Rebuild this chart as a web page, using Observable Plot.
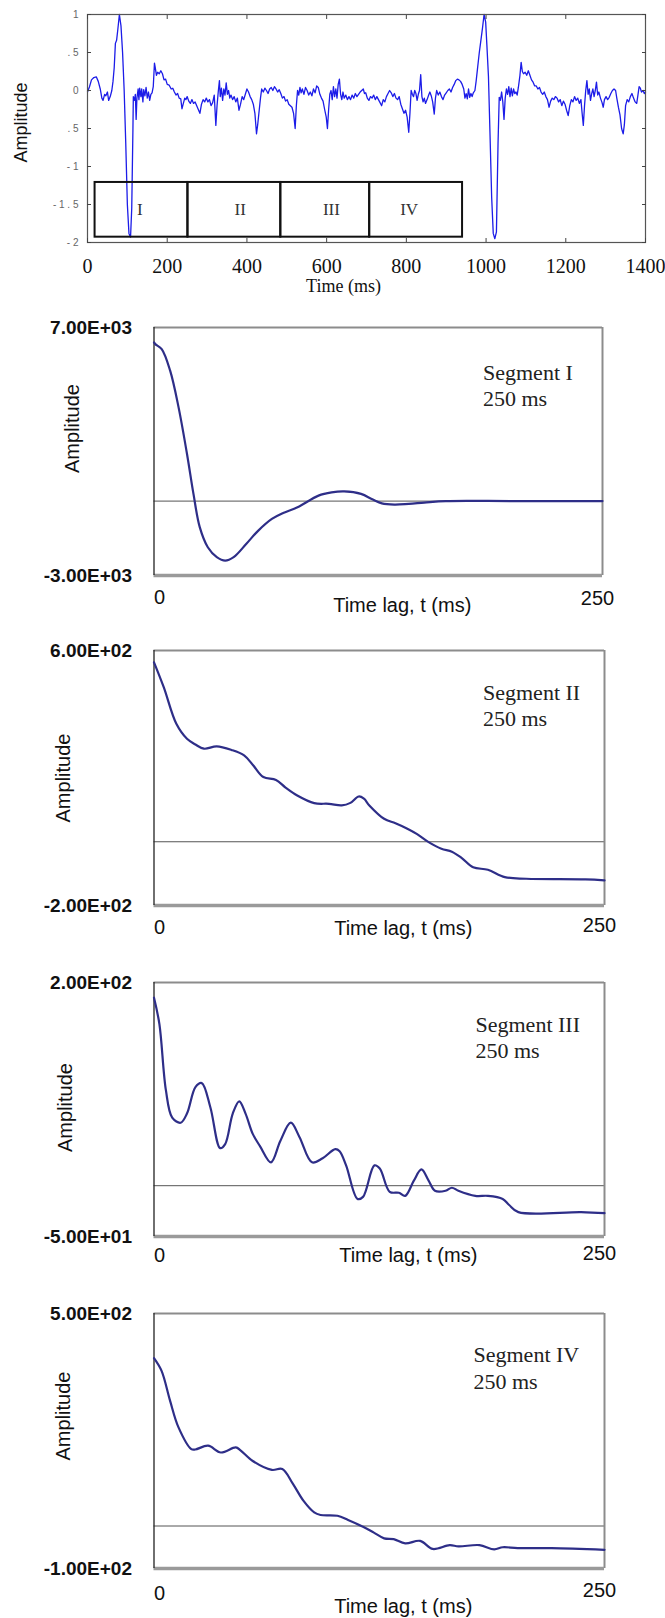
<!DOCTYPE html>
<html>
<head>
<meta charset="utf-8">
<script src="https://cdn.jsdelivr.net/npm/d3@7"></script>
<script src="https://cdn.jsdelivr.net/npm/@observablehq/plot@0.6"></script>
<style>
  html, body { margin: 0; padding: 0; background: #fff; }
  #page { position: relative; width: 665px; height: 1618px; background: #fff; overflow: hidden; }
  .panel { position: absolute; left: 0; }
  svg { overflow: visible; }
</style>
</head>
<body>
<div id="page"></div>
<script>
// ---------- DATA ----------
// ECG trace (time ms, amplitude)
const ecgSamples = [
[0,-0.02],[5,0.05],[10,0.14],[16,0.17],[22,0.18],[27,0.12],[32,0.02],[36,-0.10],[39,-0.13],[43,-0.05],
[46,-0.07],[50,-0.02],[53,-0.13],[57,-0.08],[61,0.00],[64,0.12],[67,0.30],[70,0.62],[73,0.66],[76,0.80],
[80,1.00],[84,0.85],[88,0.50],[92,0.00],[96,-0.70],[100,-1.50],[104,-1.88],[108,-1.93],[111,-1.55],[114,-0.50],
[115,-0.08],[118,-0.13],[120,-0.05],[122,-0.38],[124,-0.10],[127,0.02],[129,-0.12],[131,0.03],[134,-0.08],[136,0.02],
[139,-0.15],[141,0.01],[144,-0.07],[147,0.04],[150,-0.10],[153,-0.02],[156,-0.13],[159,-0.05],[162,-0.03],[165,0.05],
[168,0.36],[170,0.30],[173,0.20],[176,0.24],[180,0.22],[184,0.26],[188,0.22],[192,0.14],[196,0.15],[200,0.08],
[205,0.07],[210,0.02],[214,0.03],[218,-0.02],[222,-0.06],[226,-0.04],[230,-0.10],[234,-0.11],[237,-0.24],[240,-0.18],
[244,-0.10],[247,-0.12],[250,-0.08],[254,-0.14],[258,-0.17],[262,-0.12],[266,-0.17],[270,-0.15],[274,-0.20],[278,-0.25],
[282,-0.30],[286,-0.18],[290,-0.12],[294,-0.15],[298,-0.10],[302,-0.15],[306,-0.12],[310,-0.20],[314,-0.16],[318,-0.06],
[322,-0.46],[325,-0.20],[328,-0.02],[331,0.13],[333,-0.08],[336,0.03],[339,-0.13],[342,0.02],[345,-0.06],[348,0.10],
[351,-0.05],[354,0.00],[357,-0.10],[360,-0.06],[364,-0.12],[368,-0.08],[372,-0.15],[376,-0.10],[380,-0.26],[384,-0.18],
[388,-0.08],[392,-0.12],[396,-0.05],[400,0.02],[404,-0.02],[408,-0.08],[412,-0.12],[416,-0.18],[420,-0.30],[424,-0.57],
[427,-0.45],[430,-0.30],[434,-0.10],[437,0.02],[441,-0.02],[445,0.03],[449,0.00],[453,-0.04],[457,0.02],[461,0.04],
[465,0.00],[469,0.05],[473,0.02],[477,-0.02],[481,0.01],[485,-0.04],[489,-0.10],[493,-0.08],[497,-0.14],[501,-0.12],
[505,-0.18],[509,-0.20],[513,-0.22],[517,-0.30],[521,-0.50],[524,-0.20],[527,0.00],[530,-0.06],[533,0.04],[536,-0.03],
[539,0.02],[543,-0.05],[547,0.04],[551,0.00],[555,-0.06],[559,-0.02],[563,-0.07],[567,0.02],[571,-0.03],[575,0.06],
[579,0.04],[583,-0.05],[587,-0.10],[591,-0.14],[595,-0.25],[599,-0.35],[602,-0.50],[605,-0.25],[608,-0.05],[611,0.00],
[614,-0.12],[617,0.05],[620,-0.08],[623,0.02],[626,-0.10],[629,0.08],[632,0.15],[635,-0.05],[638,-0.12],[641,-0.02],
[644,-0.10],[648,-0.06],[652,-0.12],[656,-0.08],[660,-0.12],[664,-0.06],[668,-0.10],[672,-0.04],[676,-0.08],[680,-0.05],
[684,-0.02],[688,0.00],[692,0.02],[695,-0.04],[698,-0.03],[702,-0.10],[706,-0.13],[710,-0.08],[714,-0.10],[718,-0.06],
[722,-0.12],[726,-0.08],[730,-0.12],[734,-0.16],[738,-0.20],[742,-0.12],[746,-0.15],[750,-0.08],[754,-0.04],[758,0.00],
[762,-0.03],[766,-0.08],[770,-0.04],[774,-0.10],[778,-0.12],[782,-0.08],[786,-0.18],[790,-0.24],[794,-0.30],[798,-0.26],
[802,-0.35],[806,-0.55],[809,-0.30],[812,0.00],[815,-0.05],[818,-0.08],[821,0.00],[824,-0.04],[827,-0.13],[830,-0.05],
[833,0.00],[836,0.21],[839,-0.08],[842,-0.15],[845,-0.10],[848,-0.17],[852,-0.12],[856,-0.06],[859,-0.02],[863,-0.08],
[866,-0.15],[870,-0.31],[873,-0.10],[876,0.00],[880,-0.06],[884,-0.02],[888,-0.08],[892,-0.12],[896,-0.06],[900,-0.03],
[904,0.00],[908,0.02],[912,-0.02],[916,0.04],[920,0.08],[924,0.13],[928,0.15],[932,0.14],[936,0.12],[940,0.08],
[944,0.02],[947,-0.10],[950,-0.04],[953,-0.11],[956,0.02],[959,-0.09],[962,-0.04],[965,-0.08],[968,-0.03],[972,0.00],
[975,0.12],[979,0.31],[983,0.50],[987,0.66],[991,0.82],[995,1.00],[999,0.90],[1002,0.60],[1006,0.18],[1010,-0.60],
[1014,-1.40],[1018,-1.88],[1022,-1.95],[1026,-1.86],[1030,-0.70],[1033,-0.09],[1036,-0.13],[1039,-0.02],[1042,-0.15],[1045,-0.38],
[1048,-0.10],[1051,0.02],[1054,-0.05],[1057,0.05],[1060,-0.08],[1063,0.03],[1066,-0.07],[1069,0.02],[1072,-0.04],[1075,-0.02],
[1078,-0.06],[1081,0.04],[1085,0.20],[1088,0.37],[1091,0.25],[1094,0.22],[1098,0.24],[1102,0.20],[1106,0.26],[1110,0.20],
[1114,0.14],[1118,0.11],[1122,0.06],[1126,0.06],[1130,0.02],[1134,0.04],[1138,-0.02],[1142,-0.05],[1146,-0.02],[1150,-0.08],
[1154,-0.12],[1158,-0.22],[1162,-0.14],[1166,-0.10],[1170,-0.12],[1174,-0.08],[1178,-0.10],[1182,-0.15],[1186,-0.12],[1190,-0.20],
[1194,-0.14],[1198,-0.18],[1202,-0.26],[1206,-0.33],[1210,-0.20],[1214,-0.12],[1218,-0.15],[1222,-0.08],[1226,-0.13],[1230,-0.10],
[1234,-0.17],[1238,-0.12],[1241,-0.30],[1244,-0.46],[1247,-0.20],[1250,0.00],[1253,0.13],[1256,-0.05],[1259,0.02],[1262,-0.13],
[1265,-0.04],[1268,0.02],[1271,-0.08],[1274,0.00],[1277,0.11],[1280,-0.06],[1283,-0.02],[1287,-0.10],[1291,-0.16],[1294,-0.22],
[1297,-0.12],[1301,-0.08],[1305,-0.12],[1309,-0.09],[1313,-0.04],[1317,0.00],[1321,0.02],[1325,0.00],[1328,-0.10],[1332,-0.22],
[1336,-0.32],[1340,-0.50],[1344,-0.57],[1347,-0.45],[1350,-0.20],[1354,-0.12],[1358,-0.15],[1362,-0.08],[1366,-0.04],[1370,-0.10],
[1374,-0.15],[1378,-0.17],[1381,-0.06],[1384,0.05],[1387,0.03],[1390,-0.02],[1394,0.00],[1397,-0.04],[1400,-0.02]
];
const ecgXTicks = [0, 200, 400, 600, 800, 1000, 1200, 1400];
const ecgYTicks = [1, 0.5, 0, -0.5, -1, -1.5, -2];
const ecgYTickLabels = ["1", ". 5", "0", ". 5", "- 1", "- 1 . 5", "- 2"];
const ecgXDomain = [0, 1400];
const ecgYDomain = [-2, 1];

// Segment boxes drawn on the ECG
const segmentNames = ["I", "II", "III", "IV"];
const segmentStart = [19, 252, 485, 708];
const segmentEnd = [252, 485, 708, 941];
const segmentLabelX = [131, 383, 612, 807];
const segmentBoxTop = -1.21;
const segmentBoxBottom = -1.93;
const segmentLabelY = -1.56;

// Autocorrelation curves (time lag ms, amplitude)
const lagDomain = [0, 250];
const lagTicks = [0, 250];
const lagTickLabels = ["0", "250"];

const segIData = [[0,6400],[0.7,6330],[4.3,6130],[9,5260],[13.7,3780],[18.4,1900],[22,290],[25.5,-1050],[30,-1860],[35,-2260],
[39.7,-2400],[44.4,-2260],[51.5,-1720],[58,-1200],[65.7,-720],[72,-480],[80,-250],[91.7,220],[99,350],[106,390],[115.4,290],
[122,60],[127,-90],[134,-140],[142,-110],[150.7,-60],[162.7,0],[200,0],[250,0]];
const segIYDomain = [-3000, 7000];
const segIYLabels = ["-3.00E+03", "7.00E+03"];

const segIIData = [[0,563],[5.4,485],[12.4,370],[18.3,323],[23,305],[27.7,292],[34.8,299],[43,288],[50,271],[55,240],
[60.7,203],[67.7,194],[73,170],[79.5,145],[88.9,121],[97.1,119],[104.2,114],[109,122],[113.6,142],[116.5,135],[119.5,114],
[127.7,72],[134,58],[140.6,41],[146,24],[152.4,-1],[159.5,-22],[165.3,-31],[171,-52],[177.1,-80],[185.3,-88],[194.7,-111],
[206.5,-116],[239.4,-118],[250,-121]];
const segIIYDomain = [-200, 600];
const segIIYLabels = ["-2.00E+02", "6.00E+02"];

const segIIIData = [[0,185],[3,159],[6.6,94],[10.1,67],[14.8,62],[18.3,71],[23,97],[26.5,101],[31.3,77],[36.7,37],[39.5,41],
[43.7,71],[47.3,83],[50.8,71],[54.8,51],[58.8,39],[64.9,23],[70.1,44],[75.9,62],[80.7,48],[87.7,23],[93.6,27],[100.6,36],
[103,34],[106.6,20],[112.9,-13],[116,-11],[122.3,20],[125.3,17],[130.8,-6],[135.9,-7],[139.4,-10],[144.2,5],[148.4,16],
[152.4,5],[155.9,-5],[161.8,-5],[165.3,-2],[168.9,-5],[178.3,-10],[185.3,-10],[193.5,-13],[197.1,-19],[202.2,-26],[237,-26],[250,-27]];
const segIIIYDomain = [-50, 200];
const segIIIYLabels = ["-5.00E+01", "2.00E+02"];

const segIVData = [[0,395],[4.2,365],[8.9,295],[13.6,232],[20.7,181],[22.9,180],[30,189],[37.1,173],[45.4,185],[48,178],
[54.8,153],[65.4,132],[71.2,134],[77.1,99],[83,59],[88.9,32],[92.4,26],[101.8,24],[107.7,14],[116,-2],[121.8,-15],[127.7,-29],
[133,-31],[139.4,-41],[147.7,-35],[154.7,-54],[164.1,-45],[169,-48],[180.6,-45],[188.8,-55],[193.5,-50],[201.8,-52],[220.6,-52],[250,-56]];
const segIVYDomain = [-100, 500];
const segIVYLabels = ["-1.00E+02", "5.00E+02"];

const panelTitles = ["Segment I\n250 ms", "Segment II\n250 ms", "Segment III\n250 ms", "Segment IV\n250 ms"];

// ---------- DRAWING ----------
const SANS = "'Liberation Sans', Arial, sans-serif";
const SERIF = "'Liberation Serif', 'Times New Roman', serif";
const page = document.getElementById("page");

function place(node, top) {
  const div = document.createElement("div");
  div.className = "panel";
  div.style.top = top + "px";
  div.appendChild(node);
  page.appendChild(div);
}

// Panel 1: ECG
const ecgLabelMap = new Map(ecgYTicks.map((t, i) => [t, ecgYTickLabels[i]]));
const ecg = Plot.plot({
  width: 665, height: 300,
  marginLeft: 87, marginRight: 20, marginTop: 14, marginBottom: 58,
  style: {fontFamily: SANS, background: "transparent", overflow: "visible"},
  x: {domain: ecgXDomain, axis: null},
  y: {domain: ecgYDomain, axis: null},
  marks: [
    Plot.line(ecgSamples, {x: d => d[0], y: d => d[1], stroke: "#1c1ce8", strokeWidth: 1.3}),
    Plot.rect(segmentNames, {
      x1: (d, i) => segmentStart[i], x2: (d, i) => segmentEnd[i],
      y1: segmentBoxTop, y2: segmentBoxBottom,
      fill: "none", stroke: "#111", strokeWidth: 2
    }),
    Plot.text(segmentNames, {x: (d, i) => segmentLabelX[i], y: segmentLabelY, text: d => d,
      fontFamily: SERIF, fontSize: 17, fill: "#333"}),
    Plot.frame({stroke: "#555", strokeWidth: 1.2}),
    // inward tick marks
    Plot.axisX(ecgXTicks, {anchor: "top", tickSize: 4, dy: 4, tickFormat: () => "", label: null, stroke: "#444"}),
    Plot.axisX(ecgXTicks, {anchor: "bottom", tickSize: 4, dy: -4, tickFormat: () => "", label: null, stroke: "#444"}),
    Plot.axisY(ecgYTicks, {anchor: "left", tickSize: 4, dx: 4, tickFormat: () => "", label: null, stroke: "#444"}),
    Plot.axisY(ecgYTicks, {anchor: "right", tickSize: 4, dx: -4, tickFormat: () => "", label: null, stroke: "#444"}),
    // tick labels
    Plot.axisX(ecgXTicks, {anchor: "bottom", tickSize: 0, tickPadding: 16, label: null,
      tickFormat: d => String(d), fontFamily: SERIF, fontSize: 20, fill: "#111"}),
    Plot.axisY(ecgYTicks, {anchor: "left", tickSize: 0, tickPadding: 9, label: null,
      tickFormat: d => ecgLabelMap.get(d), fontSize: 10, fill: "#666"}),
    Plot.text(["Time (ms)"], {frameAnchor: "bottom", text: d => d, dx: -23, dy: 44,
      textAnchor: "middle", lineAnchor: "middle", fontFamily: SERIF, fontSize: 18, fill: "#111"}),
    Plot.text(["Amplitude"], {frameAnchor: "left", text: d => d, rotate: -90, dx: -66, dy: -6,
      textAnchor: "middle", lineAnchor: "middle", fontSize: 18, fill: "#111"})
  ]
});
place(ecg, 0);

// Lower panels
function lagPanel(cfg) {
  const yMin = cfg.yDomain[0], yMax = cfg.yDomain[1];
  const yLabelMap = new Map([[yMin, cfg.yLabels[0]], [yMax, cfg.yLabels[1]]]);
  return Plot.plot({
    width: 665, height: cfg.height,
    marginLeft: 153.5, marginRight: cfg.mr, marginTop: cfg.mt, marginBottom: cfg.mb,
    style: {fontFamily: SANS, background: "transparent", overflow: "visible"},
    x: {domain: lagDomain, axis: null},
    y: {domain: cfg.yDomain, axis: null},
    marks: [
      Plot.ruleY([0], {stroke: "#555", strokeWidth: 1}),
      Plot.ruleY([yMax], {stroke: "#8c8c8c", strokeWidth: 2}),
      Plot.ruleX([lagDomain[1]], {stroke: "#8c8c8c", strokeWidth: 2}),
      Plot.ruleY([yMin], {stroke: "#9a9a9a", strokeWidth: 3.5}),
      Plot.ruleX([lagDomain[0]], {stroke: "#222", strokeWidth: 1.3}),
      Plot.line(cfg.data, {x: d => d[0], y: d => d[1], stroke: "#2e2e88", strokeWidth: 2.2, curve: "catmull-rom"}),
      Plot.axisY([yMin, yMax], {anchor: "left", tickSize: 0, tickPadding: 22, label: null,
        tickFormat: d => yLabelMap.get(d), fontSize: 19, fontWeight: "bold", fill: "#111"}),
      Plot.text([lagTicks[0]], {x: d => d, frameAnchor: "bottom", text: d => lagTickLabels[0], dx: 5.5, dy: cfg.zeroDy,
        textAnchor: "middle", lineAnchor: "middle", fontSize: 20, fill: "#111"}),
      Plot.text([lagTicks[1]], {x: d => d, frameAnchor: "bottom", text: d => lagTickLabels[1], dx: -5, dy: cfg.endDy,
        textAnchor: "middle", lineAnchor: "middle", fontSize: 20, fill: "#111"}),
      Plot.text(["Time lag, t (ms)"], {frameAnchor: "bottom", text: d => d, dx: cfg.titleDx, dy: cfg.titleDy,
        textAnchor: "middle", lineAnchor: "middle", fontSize: 20, fill: "#111"}),
      Plot.text(["Amplitude"], {frameAnchor: "left", text: d => d, rotate: -90, dx: cfg.ampDx, dy: cfg.ampDy,
        textAnchor: "middle", lineAnchor: "middle", fontSize: 20, fill: "#111"}),
      Plot.text([cfg.title], {frameAnchor: "top-left", text: d => d, dx: cfg.segDx, dy: cfg.segDy,
        textAnchor: "start", lineAnchor: "middle", lineHeight: 1.2, fontFamily: SERIF, fontSize: 22, fill: "#222"})
    ]
  });
}

place(lagPanel({data: segIData, yDomain: segIYDomain, yLabels: segIYLabels, title: panelTitles[0],
  height: 320, mt: 27, mb: 45, mr: 63, zeroDy: 22, endDy: 23, titleDx: 24, titleDy: 30, ampDx: -81.5, ampDy: -23,
  segDx: 329, segDy: 57}), 300);
place(lagPanel({data: segIIData, yDomain: segIIYDomain, yLabels: segIIYLabels, title: panelTitles[1],
  height: 330, mt: 30, mb: 45, mr: 61, zeroDy: 22, endDy: 20, titleDx: 24, titleDy: 23, ampDx: -90, ampDy: 0,
  segDx: 329, segDy: 54}), 620);
place(lagPanel({data: segIIIData, yDomain: segIIIYDomain, yLabels: segIIIYLabels, title: panelTitles[2],
  height: 320, mt: 32, mb: 34, mr: 61, zeroDy: 19, endDy: 17, titleDx: 29, titleDy: 19, ampDx: -88, ampDy: -2,
  segDx: 321.5, segDy: 54}), 950);
place(lagPanel({data: segIVData, yDomain: segIVYDomain, yLabels: segIVYLabels, title: panelTitles[3],
  height: 348, mt: 43, mb: 50, mr: 61, zeroDy: 25, endDy: 22, titleDx: 24, titleDy: 38, ampDx: -90, ampDy: -25,
  segDx: 319.5, segDy: 53.5}), 1270);
</script>
</body>
</html>
